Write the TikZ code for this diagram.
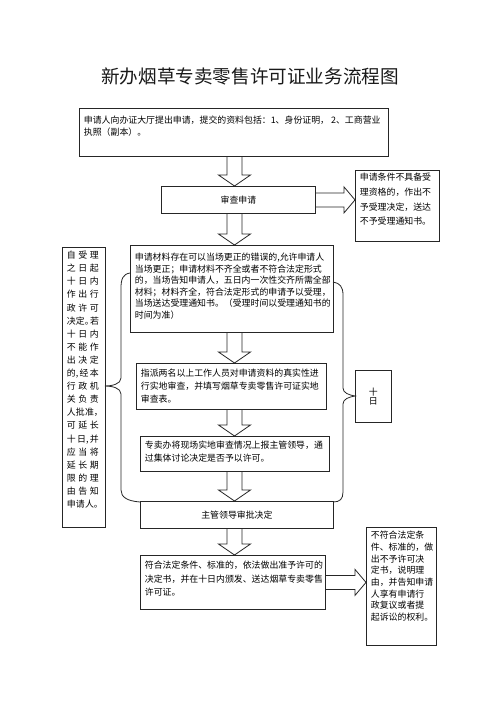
\documentclass[tikz,border=0pt]{standalone}
\usepackage{fontspec}
\setmainfont{Noto Sans CJK SC}
\usetikzlibrary{calc}
\hfuzz=20pt
\newcommand\rw[1]{\makebox[32pt]{#1}}
\newcommand\tbox[8]{%
 \node[box, minimum width=#4pt, minimum height=#5pt] (#1) at (#2,#3)
 {\parbox[c][#5pt][t]{\dimexpr#4pt-9pt\relax}{\fontsize{8.9}{#7}\selectfont\raggedright\vspace*{#6pt}#8}};}
\newcommand\varrow[2]{\draw[arr] let \p1=(#1.south), \p2=(#2.north), \p0=(col) in
 (\x0-7.5pt,\y1) -- (\x0-7.5pt,\y2+11pt) -- (\x0-16pt,\y2+11pt) -- (\x0,\y2) --
 (\x0+16pt,\y2+11pt) -- (\x0+7.5pt,\y2+11pt) -- (\x0+7.5pt,\y1);}
\newcommand\harrow[2]{\draw[arr] let \p1=(#1.east), \p2=(#2.west) in
 (\x1,\y1+7pt) -- (\x2-11pt,\y1+7pt) -- (\x2-11pt,\y1+13pt) -- (\x2,\y1) --
 (\x2-11pt,\y1-13pt) -- (\x2-11pt,\y1-7pt) -- (\x1,\y1-7pt);}
\begin{document}
\begin{tikzpicture}[x=1pt,y=-1pt,
  box/.style={draw=black!85, line width=0.8pt, fill=white, inner sep=0pt, anchor=north west},
  cbox/.style={box, font=\fontsize{8.9}{10}\selectfont, align=center},
  arr/.style={draw=black!85, line width=0.8pt, line join=miter},
  ln/.style={draw=black!85, line width=0.8pt}]
\fill[white] (0,0) rectangle (500,707);
\useasboundingbox (0,0) rectangle (500,707);
\coordinate (col) at (234.5,0);
\node[font=\fontsize{18.6}{20}\selectfont, text=black!90] (title) at (250,76) {新办烟草专卖零售许可证业务流程图};
\tbox{b1}{79}{108}{309}{48}{7.5}{12}{申请人向办证大厅提出申请，提交的资料包括：1、身份证明， 2、工商营业\\执照（副本）。}
\node[cbox, minimum width=154pt, minimum height=27pt] (b2) at (161,186) {审查申请};
\tbox{r1}{355}{170}{84}{71}{2.7}{14.7}{申请条件不具备受\\理资格的，作出不\\予受理决定，送达\\不予受理通知书。}
\tbox{b3}{130}{245}{203}{87}{7.5}{11.6}{申请材料存在可以当场更正的错误的,允许申请人\\当场更正；申请材料不齐全或者不符合法定形式\\的，当场告知申请人，五日内一次性交齐所需全部\\材料；材料齐全，符合法定形式的申请予以受理，\\当场送达受理通知书。（受理时间以受理通知书的\\时间为准）}
\tbox{L}{62}{247}{43}{280}{3.7}{13.1}{\rw{自\hfill 受\hfill 理}\\\rw{之\hfill 日\hfill 起}\\\rw{十\hfill 日\hfill 内}\\\rw{作\hfill 出\hfill 行}\\\rw{政\hfill 许\hfill 可}\\\rw{决\hfill 定。\kern-4pt\hfill 若}\\\rw{十\hfill 日\hfill 内}\\\rw{不\hfill 能\hfill 作}\\\rw{出\hfill 决\hfill 定}\\\rw{的,\hfill 经\hfill 本}\\\rw{行\hfill 政\hfill 机}\\\rw{关\hfill 负\hfill 责}\\\rw{人\hfill 批\hfill 准，\kern-4pt}\\\rw{可\hfill 延\hfill 长}\\\rw{十\hfill 日,\hfill 并}\\\rw{应\hfill 当\hfill 将}\\\rw{延\hfill 长\hfill 期}\\\rw{限\hfill 的\hfill 理}\\\rw{由\hfill 告\hfill 知}\\\rw{申\hfill 请\hfill 人。\kern-4pt}}
\tbox{b4}{136}{363}{190}{46}{5.7}{13}{指派两名以上工作人员对申请资料的真实性进\\行实地审查，并填写烟草专卖零售许可证实地\\审查表。}
\node[cbox, minimum width=36pt, minimum height=52pt, font=\fontsize{8.9}{9}\selectfont] (T) at (355,370) {十\\日};
\tbox{b5}{140}{436}{189}{35}{4.7}{13}{专卖办将现场实地审查情况上报主管领导，通\\过集体讨论决定是否予以许可。}
\node[cbox, minimum width=193pt, minimum height=27pt] (b6) at (140,501) {主管领导审批决定};
\tbox{b7}{140}{555}{185}{54}{5.7}{13.5}{符合法定条件、标准的，依法做出准予许可的\\决定书，并在十日内颁发、送达烟草专卖零售\\许可证。}
\tbox{b8}{366}{527}{70}{118}{3.7}{11.7}{不符合法定条\\件、标准的，做\\出不予许可决\\定书，说明理\\由，并告知申请\\人享有申请行\\政复议或者提\\起诉讼的权利。}
\varrow{b1}{b2}
\varrow{b2}{b3}
\varrow{b3}{b4}
\varrow{b4}{b5}
\varrow{b5}{b6}
\varrow{b6}{b7}
\harrow{b2}{r1}
\harrow{b7}{b8}
\draw[ln] (130,273) .. controls (123,274) and (121,279) .. (121,288) -- (121,378)
  .. controls (121,384) and (112,386) .. (105,386)
  .. controls (112,386) and (121,388) .. (121,394) -- (121,490)
  .. controls (121,497) and (127,501) .. (140,502);
\draw[ln] (333,282) .. controls (340,283) and (343,287) .. (343,295) -- (343,388)
  .. controls (343,393) and (349,395) .. (355,396)
  .. controls (349,397) and (343,399) .. (343,404) -- (343,492)
  .. controls (343,499) and (340,502) .. (333,502);
\end{tikzpicture}
\end{document}
